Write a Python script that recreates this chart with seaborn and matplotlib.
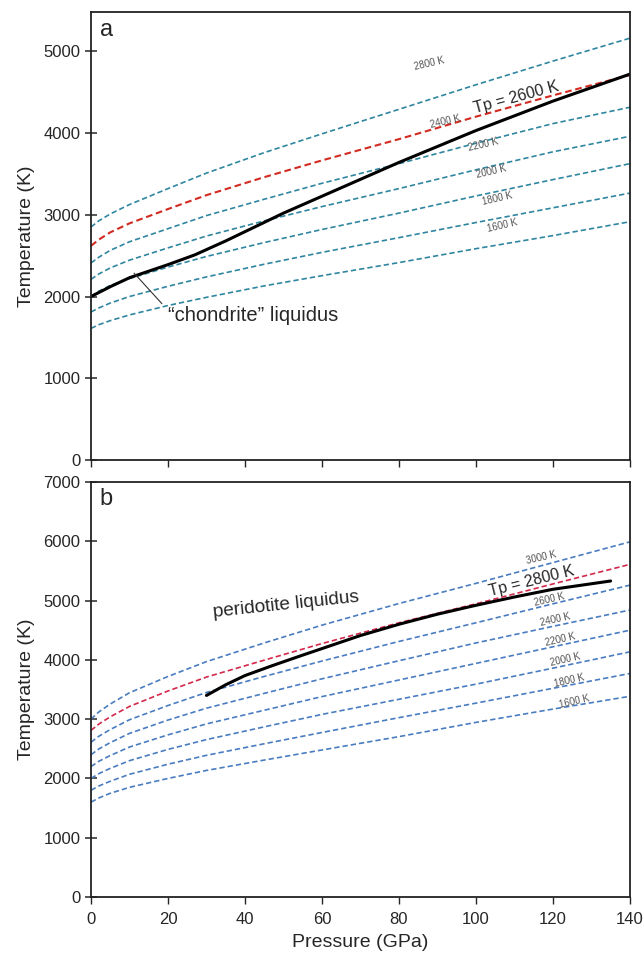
import matplotlib
matplotlib.use("Agg")
import matplotlib.pyplot as plt
import seaborn as sns

# pressure grid (GPa) used by the adiabats
pressione = [0, 2, 5, 10, 20, 30, 45, 60, 80, 100, 120, 140]

# --- panel a: adiabats (K) ---
a_1600 = [1610, 1655, 1705, 1775, 1890, 1990, 2130, 2255, 2415, 2585, 2745, 2915]
a_1800 = [1810, 1860, 1920, 2000, 2125, 2240, 2395, 2540, 2720, 2905, 3085, 3265]
a_2000 = [2000, 2065, 2135, 2220, 2360, 2490, 2660, 2820, 3020, 3230, 3430, 3625]
a_2200 = [2210, 2275, 2350, 2445, 2595, 2740, 2925, 3100, 3320, 3550, 3770, 3960]
a_2400 = [2410, 2480, 2565, 2670, 2830, 2990, 3190, 3385, 3625, 3875, 4115, 4315]
a_2600 = [2620, 2695, 2785, 2895, 3070, 3240, 3460, 3665, 3925, 4200, 4460, 4710]
a_2800 = [2850, 2925, 3010, 3125, 3320, 3510, 3760, 3990, 4290, 4590, 4880, 5160]

# chondrite liquidus
cond_p = [0, 5, 10, 20, 27, 35, 50, 65, 80, 100, 120, 140]
cond_t = [2000, 2120, 2230, 2390, 2510, 2680, 3020, 3330, 3640, 4030, 4390, 4720]

# --- panel b: adiabats (K) ---
b_1600 = [1600, 1670, 1750, 1850, 2000, 2135, 2310, 2480, 2705, 2945, 3170, 3385]
b_1800 = [1800, 1872, 1953, 2070, 2240, 2390, 2585, 2775, 3025, 3270, 3520, 3770]
b_2000 = [2000, 2080, 2170, 2300, 2490, 2655, 2870, 3080, 3335, 3590, 3860, 4135]
b_2200 = [2200, 2288, 2387, 2530, 2735, 2920, 3150, 3380, 3660, 3940, 4220, 4500]
b_2400 = [2400, 2496, 2604, 2760, 2985, 3185, 3435, 3680, 3985, 4285, 4565, 4840]
b_2600 = [2610, 2710, 2825, 2990, 3230, 3450, 3720, 3980, 4310, 4625, 4945, 5260]
b_2800 = [2810, 2915, 3040, 3215, 3475, 3710, 3995, 4275, 4625, 4945, 5280, 5610]
b_3000 = [3000, 3120, 3255, 3445, 3720, 3970, 4285, 4585, 4950, 5290, 5640, 5990]

# peridotite liquidus
perid_p = [30, 35, 40, 47, 55, 60, 70, 80, 90, 100, 110, 120, 135]
perid_t = [3400, 3580, 3735, 3900, 4080, 4190, 4410, 4600, 4770, 4920, 5060, 5190, 5330]

# label positions for the small adiabat tags (P, T)
etich_a = ["2800 K", "2400 K", "2200 K", "2000 K", "1800 K", "1600 K"]
etich_a_p = [88, 92, 102, 104, 105.5, 107]
etich_a_t = [4853, 4144, 3863, 3533, 3203, 2873]

etich_b = ["3000 K", "2600 K", "2400 K", "2200 K", "2000 K", "1800 K", "1600 K"]
etich_b_p = [117, 119, 120.7, 122, 123.2, 124.4, 125.5]
etich_b_t = [5721, 5016, 4684, 4335, 3997, 3655, 3289]

sns.set_theme(style="ticks")
plt.rcParams['font.family'] = ['Liberation Sans', 'DejaVu Sans']

fig = plt.figure(figsize=(6.44, 9.63), dpi=100)
ax1 = fig.add_axes([0.1413, 0.5223, 0.8367, 0.4652])
ax2 = fig.add_axes([0.1413, 0.0685, 0.8367, 0.431])

tratteggio = (0, (3.2, 1.8))
teal = "#2f86a0"
blu = "#4a7cc0"

# --- pannello a ---
for serie in [a_1600, a_1800, a_2000, a_2200, a_2400, a_2800]:
    sns.lineplot(x=pressione, y=serie, ax=ax1, color=teal, linewidth=1.2,
                 linestyle=tratteggio, legend=False)
sns.lineplot(x=pressione, y=a_2600, ax=ax1, color="#d22b22", linewidth=1.5,
             linestyle=tratteggio, legend=False)
sns.lineplot(x=cond_p, y=cond_t, ax=ax1, color="black", linewidth=2.2, legend=False)

for testo, p, t in zip(etich_a, etich_a_p, etich_a_t):
    ax1.text(p, t, testo, fontsize=7, color="#555555", rotation=13,
             ha="center", va="center")
ax1.text(110.4, 4438, "Tp = 2600 K", fontsize=11.5, rotation=15,
         ha="center", va="center")
ax1.annotate("\u201cchondrite\u201d liquidus", xy=(11.2, 2286), xytext=(20, 1773),
             fontsize=14.5, va="center", ha="left",
             arrowprops=dict(arrowstyle="-", color="#333333", lw=0.8,
                             shrinkA=3, shrinkB=0, relpos=(0, 0.75)))
ax1.text(0.016, 0.985, "a", transform=ax1.transAxes, fontsize=17,
         ha="left", va="top")

ax1.set_xlim(0, 140)
ax1.set_ylim(0, 5480)
ax1.set_xticks(range(0, 141, 20))
ax1.set_xticklabels([])
ax1.set_yticks(range(0, 5001, 1000))
ax1.set_ylabel("Temperature (K)", fontsize=14, labelpad=6)

# --- pannello b ---
for serie in [b_1600, b_1800, b_2000, b_2200, b_2400, b_2600, b_3000]:
    sns.lineplot(x=pressione, y=serie, ax=ax2, color=blu, linewidth=1.2,
                 linestyle=tratteggio, legend=False)
sns.lineplot(x=pressione, y=b_2800, ax=ax2, color="#d3284a", linewidth=1.2,
             linestyle=tratteggio, legend=False)
sns.lineplot(x=perid_p, y=perid_t, ax=ax2, color="black", linewidth=2.2, legend=False)

for testo, p, t in zip(etich_b, etich_b_p, etich_b_t):
    ax2.text(p, t, testo, fontsize=7, color="#555555", rotation=13,
             ha="center", va="center")
ax2.text(114.6, 5325, "Tp = 2800 K", fontsize=11.5, rotation=14,
         ha="center", va="center")
ax2.text(50.8, 4919, "peridotite liquidus", fontsize=13.7, rotation=6,
         ha="center", va="center")
ax2.text(0.016, 0.985, "b", transform=ax2.transAxes, fontsize=17,
         ha="left", va="top")

ax2.set_xlim(0, 140)
ax2.set_ylim(0, 7000)
ax2.set_xticks(range(0, 141, 20))
ax2.set_yticks(range(0, 7001, 1000))
ax2.set_ylabel("Temperature (K)", fontsize=14, labelpad=6)
ax2.set_xlabel("Pressure (GPa)", fontsize=14, labelpad=5)

for ax in (ax1, ax2):
    for lato in ax.spines.values():
        lato.set_linewidth(1.3)
        lato.set_color("#222222")
    ax.tick_params(axis="y", direction="inout", length=8, width=1.1, labelsize=12)
    ax.tick_params(axis="x", direction="out", length=5, width=1.0, labelsize=12, pad=6)

fig.savefig("out.png", dpi=100)
